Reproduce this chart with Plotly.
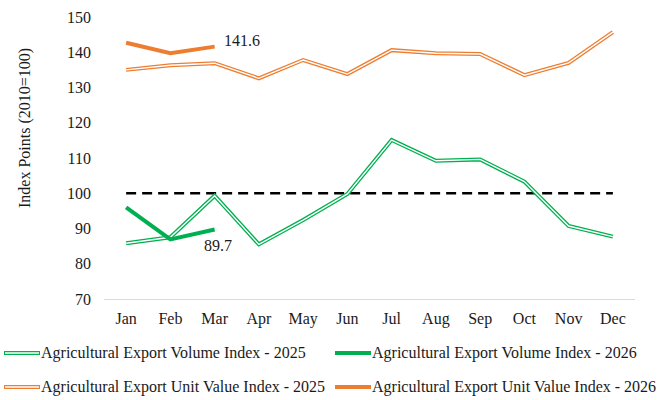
import plotly.graph_objects as go

months = ["Jan", "Feb", "Mar", "Apr", "May", "Jun", "Jul", "Aug", "Sep", "Oct", "Nov", "Dec"]
volume_2025 = [85.8, 87.5, 99.3, 85.5, 92.4, 99.8, 115.1, 109.2, 109.6, 103.3, 90.7, 87.7]
volume_2026 = [96.0, 86.9, 89.7]
unit_2025 = [135.0, 136.3, 136.9, 132.6, 137.8, 133.8, 140.6, 139.7, 139.5, 133.5, 137.0, 145.7]
unit_2026 = [142.7, 139.7, 141.6]
baseline = [100] * 12

GREEN = "#00B050"
ORANGE = "#ED7D31"
FONT = "Liberation Serif"
TXT = "#1a1a1a"
FS = 16

names = [
    ("Agricultural Export Volume Index - 2025", GREEN, True),
    ("Agricultural Export Volume Index - 2026", GREEN, False),
    ("Agricultural Export Unit Value Index - 2025", ORANGE, True),
    ("Agricultural Export Unit Value Index - 2026", ORANGE, False),
]

fig = go.Figure()

fig.add_trace(go.Scatter(x=months, y=baseline, mode="lines",
                         line=dict(color="black", width=2.5, dash="10px,6px"),
                         showlegend=False, hoverinfo="skip"))

def double_line(x, y, color, name):
    fig.add_trace(go.Scatter(x=x, y=y, mode="lines", name=name,
                             line=dict(color=color, width=4.0), showlegend=False))
    fig.add_trace(go.Scatter(x=x, y=y, mode="lines",
                             line=dict(color="white", width=1.4),
                             showlegend=False, hoverinfo="skip"))

double_line(months, unit_2025, ORANGE, names[2][0])
double_line(months, volume_2025, GREEN, names[0][0])
fig.add_trace(go.Scatter(x=months[:3], y=unit_2026, mode="lines", name=names[3][0],
                         line=dict(color=ORANGE, width=4), showlegend=False))
fig.add_trace(go.Scatter(x=months[:3], y=volume_2026, mode="lines", name=names[1][0],
                         line=dict(color=GREEN, width=4), showlegend=False))

fig.add_annotation(x=months[2], y=unit_2026[2], text=f"{unit_2026[2]:.1f}",
                   showarrow=False, xanchor="left", yanchor="middle",
                   xshift=7, yshift=6, font=dict(family=FONT, size=FS, color=TXT))
fig.add_annotation(x=months[2], y=volume_2026[2], text=f"{volume_2026[2]:.1f}",
                   showarrow=False, xanchor="center", yanchor="top",
                   xshift=3, yshift=-5, font=dict(family=FONT, size=FS, color=TXT))

# manual legend (pixel layout converted to paper coords)
L, R, T, B = 104, 635, 17, 299
W, H = R - L, B - T
def px(xp):
    return (xp - L) / W
def py(yp):
    return (B - yp) / H

rows = [353, 387]
cols = [(4, 40), (335, 371)]
positions = [(0, 0), (0, 1), (1, 0), (1, 1)]
for (name, color, dbl), (r, c) in zip(names, positions):
    x0, x1 = cols[c]
    yy = rows[r]
    if dbl:
        fig.add_shape(type="line", xref="paper", yref="paper", x0=px(x0), x1=px(x1),
                      y0=py(yy), y1=py(yy), line=dict(color=color, width=4.0))
        fig.add_shape(type="line", xref="paper", yref="paper", x0=px(x0 + 1), x1=px(x1 - 1),
                      y0=py(yy), y1=py(yy), line=dict(color="white", width=1.4))
    else:
        fig.add_shape(type="line", xref="paper", yref="paper", x0=px(x0), x1=px(x1),
                      y0=py(yy), y1=py(yy), line=dict(color=color, width=4))
    fig.add_annotation(xref="paper", yref="paper", x=px(x1 + 1), y=py(yy),
                       text=name, showarrow=False, xanchor="left", yanchor="middle",
                       xshift=-2, font=dict(family=FONT, size=FS, color=TXT))

# y-axis title
fig.add_annotation(xref="paper", yref="paper", x=px(25), y=py(128),
                   text="Index Points (2010=100)", textangle=-90, showarrow=False,
                   xanchor="center", yanchor="middle",
                   font=dict(family=FONT, size=FS, color=TXT))

fig.update_layout(
    width=660, height=400,
    margin=dict(l=L, r=660 - R, t=T, b=400 - B, autoexpand=False),
    paper_bgcolor="white", plot_bgcolor="white",
    font=dict(family=FONT, size=FS, color=TXT),
    showlegend=False,
    xaxis=dict(type="category", range=[-0.5, 11.5], automargin=False,
               showgrid=False, showline=True, linecolor="#d9d9d9",
               linewidth=1, ticks="", ticklabelstandoff=5,
               tickfont=dict(family=FONT, size=FS, color=TXT)),
    yaxis=dict(range=[70, 150], dtick=10, automargin=False,
               showgrid=False, zeroline=False, showline=False,
               ticks="", ticklabelstandoff=12,
               tickfont=dict(family=FONT, size=FS, color=TXT)),
)

fig.write_html("out.html", config={"displayModeBar": False},
               post_script="document.body.style.margin='0';document.body.style.overflow='hidden';")
